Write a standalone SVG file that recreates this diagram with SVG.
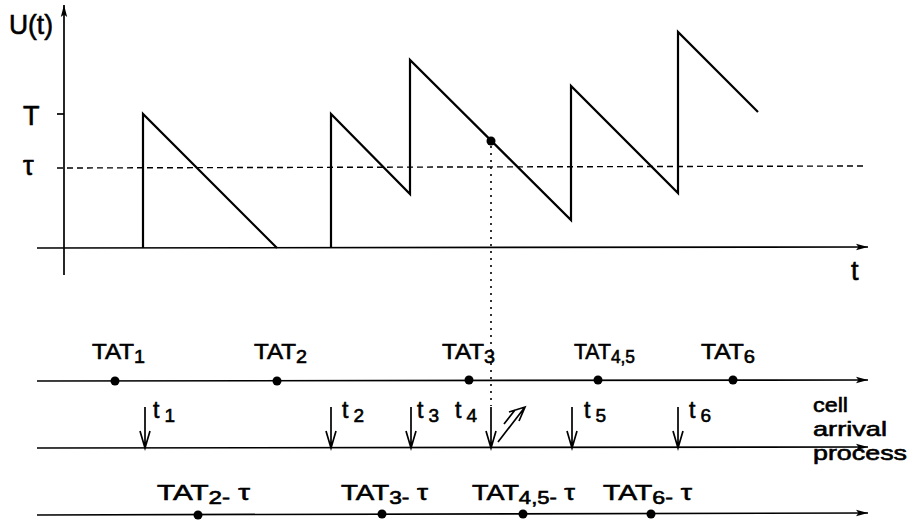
<svg xmlns="http://www.w3.org/2000/svg" width="911" height="521" viewBox="0 0 911 521">
<style>
  .ln{stroke:#000;fill:none;stroke-width:1.7}
  .saw{stroke:#000;fill:none;stroke-width:2.2;stroke-linejoin:miter}
  .dash{stroke:#000;fill:none;stroke-width:1.4;stroke-dasharray:6 4}
  .dot{stroke:#000;fill:none;stroke-width:1.6;stroke-dasharray:2 5}
  .pt{fill:#000}
  text{font-family:"Liberation Sans",Arial,Helvetica,sans-serif;fill:#000;stroke:#000;stroke-width:0.6}
  .lab{font-size:22px}
  .sub{font-size:18px}
  .big{font-size:27px}
  .axt{font-size:27px}
  .cap{font-size:21px}
  .tl{font-size:23px}
  .tls{font-size:19px}
</style>
<defs>
  <marker id="ah" markerUnits="userSpaceOnUse" markerWidth="13" markerHeight="8" refX="12" refY="4" orient="auto">
    <path d="M0,0.8 L12,4 L0,7.2 L2.5,4 z" fill="#000"/>
  </marker>
</defs>

<g id="axes">
  <line class="ln" x1="64" y1="275" x2="64" y2="5" marker-end="url(#ah)"/>
  <line class="ln" x1="37" y1="248" x2="868" y2="247" marker-end="url(#ah)"/>
  <line class="ln" x1="57" y1="114" x2="64" y2="114"/>
  <line class="dash" x1="57" y1="168" x2="867" y2="166"/>
  <text class="big" x="9" y="34" textLength="44" lengthAdjust="spacingAndGlyphs">U(t)</text>
  <text class="big" x="23" y="125">T</text>
  <text class="big" x="23" y="175">τ</text>
  <text class="axt" x="851" y="280">t</text>
</g>

<g id="curve">
  <path class="saw" d="M143,248 L143,114 L277,248"/>
  <path class="saw" d="M331,248 L331,114 L410,194 L410,60 L571,220 L571,86 L678,193 L678,32 L758,112"/>
  <circle class="pt" cx="491" cy="141" r="4.5"/>
  <line class="dot" x1="491" y1="146" x2="491" y2="406"/>
</g>

<g id="connectors">
  <line class="ln" x1="37" y1="381" x2="868" y2="380" marker-end="url(#ah)"/>
  <line class="ln" x1="37" y1="448" x2="868" y2="447" marker-end="url(#ah)"/>
  <line class="ln" x1="37" y1="515" x2="868" y2="513" marker-end="url(#ah)"/>
</g>

<g id="tat-line">
  <circle class="pt" cx="115" cy="381" r="4.5"/>
  <circle class="pt" cx="277" cy="381" r="4.5"/>
  <circle class="pt" cx="469" cy="380" r="4.5"/>
  <circle class="pt" cx="598" cy="380" r="4.5"/>
  <circle class="pt" cx="733" cy="380" r="4.5"/>
  <text class="lab" x="92" y="359" textLength="53" lengthAdjust="spacingAndGlyphs">TAT<tspan class="sub" dy="4">1</tspan></text>
  <text class="lab" x="254" y="359" textLength="53" lengthAdjust="spacingAndGlyphs">TAT<tspan class="sub" dy="4">2</tspan></text>
  <text class="lab" x="442" y="359" textLength="53" lengthAdjust="spacingAndGlyphs">TAT<tspan class="sub" dy="4">3</tspan></text>
  <text class="lab" x="574" y="359" textLength="61" lengthAdjust="spacingAndGlyphs">TAT<tspan class="sub" dy="4">4,5</tspan></text>
  <text class="lab" x="701" y="359" textLength="54" lengthAdjust="spacingAndGlyphs">TAT<tspan class="sub" dy="4">6</tspan></text>
</g>

<g id="arrival-line">
  <g class="ln">
    <path d="M145,407 V448 M140,431 L145,448 L150,431"/>
    <path d="M331,407 V448 M326,431 L331,448 L336,431"/>
    <path d="M411,407 V448 M406,431 L411,448 L416,431"/>
    <path d="M491,407 V448 M486,431 L491,448 L496,431"/>
    <path d="M572,407 V448 M567,431 L572,448 L577,431"/>
    <path d="M678,407 V448 M673,431 L678,448 L683,431"/>
    <path d="M498,442 L525,407 M509,412 L525,407 L519,421 M504,424 L515,410"/>
  </g>
  <text class="tl" x="153" y="418">t<tspan class="tls" dx="5" dy="4">1</tspan></text>
  <text class="tl" x="342" y="418">t<tspan class="tls" dx="5" dy="4">2</tspan></text>
  <text class="tl" x="417" y="418">t<tspan class="tls" dx="5" dy="4">3</tspan></text>
  <text class="tl" x="455" y="418">t<tspan class="tls" dx="5" dy="4">4</tspan></text>
  <text class="tl" x="584" y="418">t<tspan class="tls" dx="5" dy="4">5</tspan></text>
  <text class="tl" x="689" y="418">t<tspan class="tls" dx="5" dy="4">6</tspan></text>
  <text class="cap" x="813" y="412" textLength="35" lengthAdjust="spacingAndGlyphs">cell</text>
  <text class="cap" x="813" y="436" textLength="74" lengthAdjust="spacingAndGlyphs">arrival</text>
  <text class="cap" x="813" y="460" textLength="94" lengthAdjust="spacingAndGlyphs">process</text>
</g>

<g id="tat-tau-line">
  <circle class="pt" cx="198" cy="515" r="4.5"/>
  <circle class="pt" cx="382" cy="514" r="4.5"/>
  <circle class="pt" cx="523" cy="514" r="4.5"/>
  <circle class="pt" cx="651" cy="514" r="4.5"/>
  <text class="lab" x="157" y="500" textLength="93" lengthAdjust="spacingAndGlyphs">TAT<tspan class="sub" dy="4">2-</tspan><tspan dy="-4">  τ</tspan></text>
  <text class="lab" x="341" y="500" textLength="87" lengthAdjust="spacingAndGlyphs">TAT<tspan class="sub" dy="4">3-</tspan><tspan dy="-4">  τ</tspan></text>
  <text class="lab" x="472" y="500" textLength="103" lengthAdjust="spacingAndGlyphs">TAT<tspan class="sub" dy="4">4,5-</tspan><tspan dy="-4"> τ</tspan></text>
  <text class="lab" x="603" y="500" textLength="89" lengthAdjust="spacingAndGlyphs">TAT<tspan class="sub" dy="4">6-</tspan><tspan dy="-4">  τ</tspan></text>
</g>
</svg>
